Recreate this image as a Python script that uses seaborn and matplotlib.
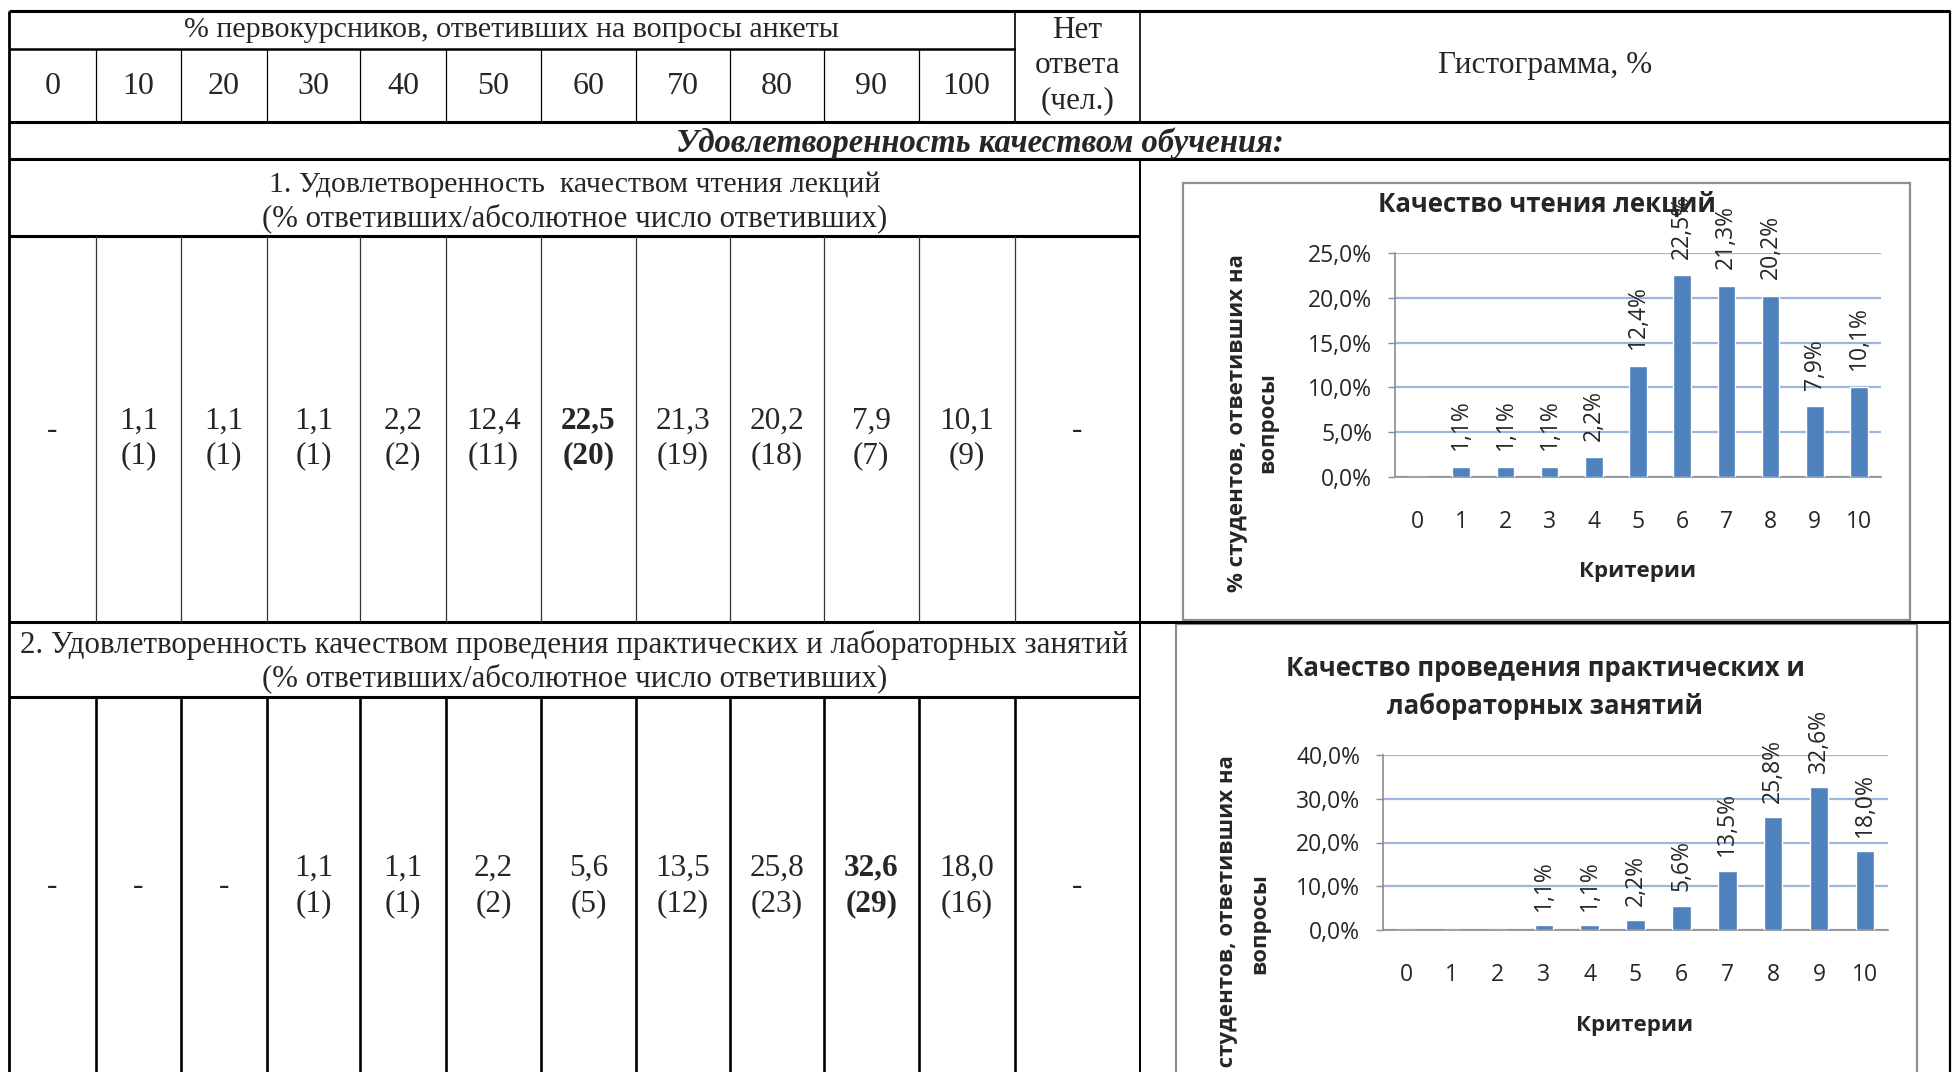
import numpy as np
import pandas as pd
import matplotlib
matplotlib.use("Agg")
import matplotlib.pyplot as plt
from matplotlib.patches import Rectangle
from matplotlib.ticker import FuncFormatter, MultipleLocator
import seaborn as sns

# ---------------- data ----------------
categories = ['0', '1', '2', '3', '4', '5', '6', '7', '8', '9', '10']
table_headers = ['0', '10', '20', '30', '40', '50', '60', '70', '80', '90', '100']
lectures_pct = [0.0, 1.1, 1.1, 1.1, 2.2, 12.4, 22.5, 21.3, 20.2, 7.9, 10.1]
lectures_n = [0, 1, 1, 1, 2, 11, 20, 19, 18, 7, 9]
practice_pct = [0.0, 0.0, 0.0, 1.1, 1.1, 2.2, 5.6, 13.5, 25.8, 32.6, 18.0]
practice_n = [0, 0, 0, 1, 1, 2, 5, 12, 23, 29, 16]
no_answer = ['-', '-']

header_top = '% первокурсников, ответивших на вопросы анкеты'
header_noans = ['Нет', 'ответа', '(чел.)']
header_hist = 'Гистограмма, %'
section_title = 'Удовлетворенность качеством обучения:'
row1_title = ['1. Удовлетворенность  качеством чтения лекций',
              '(% ответивших/абсолютное число ответивших)']
row2_title = ['2. Удовлетворенность качеством проведения практических и лабораторных занятий',
              '(% ответивших/абсолютное число ответивших)']
chart1_title = 'Качество чтения лекций'
chart2_title = ['Качество проведения практических и', 'лабораторных занятий']
ylabel_lines = ['% студентов, ответивших на', 'вопросы']
xlabel_text = 'Критерии'

# ---------------- style ----------------
sns.set_style("white")
plt.rcParams['font.family'] = ['Open Sans', 'DejaVu Sans']
SERIF = ['Liberation Serif', 'DejaVu Serif']
BAR = '#4F81BD'
GRID = '#9DB5E0'
AXC = '#8C8C8C'

W, H = 1953, 1072
fig = plt.figure(figsize=(W / 100, H / 100), dpi=100)
bg = fig.add_axes([0, 0, 1, 1])
bg.set_xlim(0, W)
bg.set_ylim(H, 0)
bg.axis('off')

cols = [9, 96, 181, 267, 360, 446, 541, 636, 730, 824, 918.5, 1014.5, 1140, 1950]
L, R = cols[0], cols[-1]
y_top, y_h1, y_h2, y_sec, y_r1t, y_r1, y_r2t, y_end = 11, 49, 122, 159, 236, 622, 697, 1090


def hline(y, x0, x1, lw=2.2, c='black'):
    bg.plot([x0, x1], [y, y], color=c, lw=lw, solid_capstyle='butt')


def vline(x, y0, y1, lw=1.0, c='black'):
    bg.plot([x, x], [y0, y1], color=c, lw=lw, solid_capstyle='butt')


# horizontal lines
hline(y_top, L, R)
hline(y_h1, L, cols[11], lw=1.8)
hline(y_h2, L, R)
hline(y_sec, L, R)
hline(y_r1t, L, cols[12])
hline(y_r1, L, R)
hline(y_r2t, L, cols[12])
# borders
vline(L, y_top, y_end, lw=2.0)
vline(R, y_top, y_end, lw=1.6)
vline(cols[11], y_top, y_h2, lw=1.2)
vline(cols[12], y_top, y_h2, lw=1.2)
vline(cols[12], y_sec, y_end, lw=1.4)
for x in cols[1:11]:
    vline(x, y_h1, y_h2, lw=0.9)
for x in cols[1:12]:
    vline(x, y_r1t, y_r1, lw=0.9, c='#333333')
    vline(x, y_r2t, y_end, lw=1.9)

FS = 22.5
# header texts
bg.text((L + cols[11]) / 2, 30, header_top, family=SERIF, fontsize=21.6, ha='center', va='center')
for i, t in enumerate(header_noans):
    bg.text((cols[11] + cols[12]) / 2, 30 + 35.5 * i, t, family=SERIF, fontsize=FS, ha='center', va='center')
bg.text((cols[12] + R) / 2, 66, header_hist, family=SERIF, fontsize=FS, ha='center', va='center')
for i, t in enumerate(table_headers):
    bg.text((cols[i] + cols[i + 1]) / 2, 86, t, family=SERIF, fontsize=23, ha='center', va='center')
bg.text((L + R) / 2, 143, section_title, family=SERIF, fontsize=23.5, ha='center', va='center',
        fontweight='bold', fontstyle='italic')
bg.text((L + cols[12]) / 2, 185, row1_title[0], family=SERIF, fontsize=21.5, ha='center', va='center')
bg.text((L + cols[12]) / 2, 218, row1_title[1], family=SERIF, fontsize=22.2, ha='center', va='center')
bg.text((L + cols[12]) / 2, 645.5, row2_title[0], family=SERIF, fontsize=22.3, ha='center', va='center')
bg.text((L + cols[12]) / 2, 678.5, row2_title[1], family=SERIF, fontsize=22.2, ha='center', va='center')


def fmt(v):
    return f"{v:.1f}".replace('.', ',')


def data_row(pcts, ns, y1, y2, ydash, noans):
    imax = int(np.argmax(pcts))
    for i, (p, n) in enumerate(zip(pcts, ns)):
        cx = (cols[i] + cols[i + 1]) / 2
        if n == 0:
            bg.text(cx, ydash, '-', family=SERIF, fontsize=FS, ha='center', va='center')
        else:
            fw = 'bold' if i == imax else 'normal'
            bg.text(cx, y1, fmt(p), family=SERIF, fontsize=FS, ha='center', va='center', fontweight=fw)
            bg.text(cx, y2, f"({n})", family=SERIF, fontsize=FS, ha='center', va='center', fontweight=fw)
    bg.text((cols[11] + cols[12]) / 2, ydash, noans, family=SERIF, fontsize=FS, ha='center', va='center')


data_row(lectures_pct, lectures_n, 421, 456, 430, no_answer[0])
data_row(practice_pct, practice_n, 868, 904, 887, no_answer[1])

# chart frames
bg.add_patch(Rectangle((1183, 183), 1910 - 1183, 620 - 183, fill=False, ec='#8F8F8F', lw=1.6))
bg.add_patch(Rectangle((1176, 624), 1917 - 1176, 1100 - 624, fill=False, ec='#8F8F8F', lw=1.6))


def make_chart(rect_px, values, ymax, ystep, label_pad):
    x0, y0, x1, y1 = rect_px
    ax = fig.add_axes([x0 / W, 1 - y1 / H, (x1 - x0) / W, (y1 - y0) / H])
    df = pd.DataFrame({'crit': categories, 'pct': values})
    sns.barplot(data=df, x='crit', y='pct', order=categories, color=BAR, width=0.4,
                saturation=1, ax=ax, zorder=3)
    ax.set_facecolor('none')
    ax.set_ylim(0, ymax)
    ax.yaxis.set_major_locator(MultipleLocator(ystep))
    ax.yaxis.set_major_formatter(FuncFormatter(lambda v, p: fmt(v) + '%'))
    ax.grid(axis='y', color=GRID, lw=1.6, zorder=0)
    ax.grid(axis='x', visible=False)
    ax.set_axisbelow(True)
    for s in ['top', 'right']:
        ax.spines[s].set_visible(False)
    for s in ['left', 'bottom']:
        ax.spines[s].set_color(AXC)
        ax.spines[s].set_linewidth(1.2)
    ax.tick_params(axis='y', left=True, length=5, width=1, color=AXC, pad=11.5, labelsize=16.5)
    ax.tick_params(axis='x', length=0, pad=23.5, labelsize=16.5)
    ax.set_xlabel('')
    ax.set_ylabel('')
    labels = [fmt(v) + '%' if v > 0 else '' for v in values]
    ax.bar_label(ax.containers[0], labels=labels, rotation=90, padding=label_pad, fontsize=16.5)
    return ax


ax1 = make_chart((1395, 253, 1881, 477), lectures_pct, 25, 5, 12)
ax2 = make_chart((1383, 755, 1888, 930), practice_pct, 40, 10, 10.5)

# chart titles and axis titles
bg.text(1547, 204, chart1_title, fontsize=18.5, fontweight='bold', ha='center', va='center')
bg.text(1545, 668, chart2_title[0], fontsize=18.5, fontweight='bold', ha='center', va='center')
bg.text(1545, 706, chart2_title[1], fontsize=18.5, fontweight='bold', ha='center', va='center')
bg.text(1638, 572, xlabel_text, fontsize=16, fontweight='bold', ha='center', va='center')
bg.text(1635, 1025, xlabel_text, fontsize=16, fontweight='bold', ha='center', va='center')
bg.text(1238, 423, ylabel_lines[0], fontsize=16, fontweight='bold', ha='center', va='center', rotation=90)
bg.text(1268, 423, ylabel_lines[1], fontsize=16, fontweight='bold', ha='center', va='center', rotation=90)
bg.text(1227, 924, ylabel_lines[0], fontsize=16, fontweight='bold', ha='center', va='center', rotation=90)
bg.text(1260, 924, ylabel_lines[1], fontsize=16, fontweight='bold', ha='center', va='center', rotation=90)

fig.savefig('out.png', dpi=100, facecolor='white')
